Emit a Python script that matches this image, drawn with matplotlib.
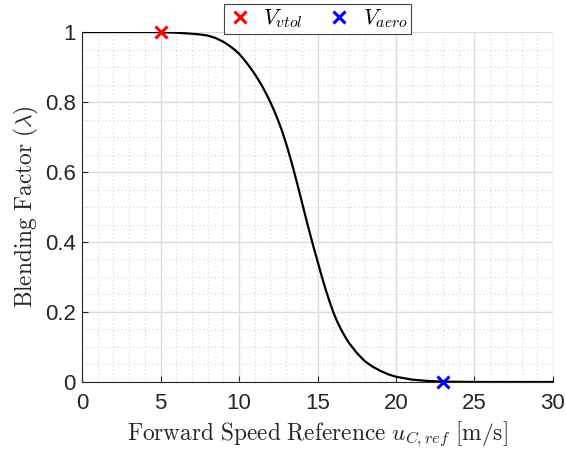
import matplotlib
matplotlib.use("Agg")
import matplotlib.pyplot as plt
from matplotlib.ticker import MultipleLocator

plt.rcParams['mathtext.fontset'] = 'cm'
plt.rcParams['font.family'] = ['Liberation Sans', 'DejaVu Sans']

# forward speed reference [m/s] and blending factor
speed = [0, 1, 2, 3, 4, 5, 6, 7, 7.5, 8, 8.5, 9, 9.25, 9.5, 9.75, 10, 10.25,
         10.5, 10.75, 11, 11.25, 11.5, 11.75, 12, 12.25, 12.5, 12.75, 13,
         13.25, 13.5, 13.75, 14, 14.25, 14.5, 14.75, 15, 15.25, 15.5, 15.75, 16,
         16.25, 16.5, 16.75, 17, 17.5, 18, 18.5, 19, 19.5, 20, 21, 22, 23, 24,
         25, 26, 27, 28, 29, 30]
blend = [1.0, 1.0, 1.0, 1.0, 1.0, 0.9995, 0.998, 0.995, 0.993, 0.990, 0.983,
         0.972, 0.965, 0.957, 0.948, 0.938, 0.925, 0.911, 0.896, 0.880, 0.862,
         0.843, 0.822, 0.799, 0.774, 0.746, 0.716, 0.681, 0.643, 0.602, 0.559,
         0.515, 0.470, 0.427, 0.385, 0.345, 0.305, 0.267, 0.232, 0.200, 0.173,
         0.150, 0.130, 0.112, 0.083, 0.060, 0.044, 0.032, 0.022, 0.015, 0.007,
         0.003, 0.001, 0.0005, 0.0, 0.0, 0.0, 0.0, 0.0, 0.0]

v_vtol = (5, 1.0)
v_aero = (23, 0.0)

fig = plt.figure(figsize=(5.66, 4.54), dpi=100)
ax = fig.add_axes([0.145, 0.1586, 0.832, 0.7709])

ax.plot(speed, blend, color='black', lw=1.6, zorder=3)
ax.plot(v_vtol[0], v_vtol[1], 'x', color='red', ms=8, mew=2.2, zorder=4,
        label=r'$V_{vtol}$', clip_on=False)
ax.plot(v_aero[0], v_aero[1], 'x', color='blue', ms=8, mew=2.2, zorder=4,
        label=r'$V_{aero}$', clip_on=False)

ax.set_xlim(0, 30)
ax.set_ylim(0, 1)
ax.xaxis.set_major_locator(MultipleLocator(5))
ax.xaxis.set_minor_locator(MultipleLocator(1))
ax.yaxis.set_major_locator(MultipleLocator(0.2))
ax.yaxis.set_minor_locator(MultipleLocator(0.05))
ax.set_yticks([0, 0.2, 0.4, 0.6, 0.8, 1.0])
ax.set_yticklabels(['0', '0.2', '0.4', '0.6', '0.8', '1'])

ax.grid(which='major', color='#dcdcdc', lw=1.0)
ax.grid(which='minor', color='#d4d4d4', lw=0.8, ls=(0, (1, 2.5)))
ax.set_axisbelow(True)

ax.spines['top'].set_visible(False)
ax.spines['right'].set_visible(False)
for s in ('left', 'bottom'):
    ax.spines[s].set_color('#262626')
    ax.spines[s].set_linewidth(0.8)
ax.tick_params(which='major', direction='in', length=4, width=0.8,
               colors='#262626', labelsize=16)
ax.tick_params(axis='x', which='major', pad=8)
ax.tick_params(axis='y', which='major', pad=4.5)
ax.tick_params(which='minor', length=0)

ax.set_xlabel(r'$\mathrm{Forward\ Speed\ Reference}\ u_{C,ref}\ \mathrm{[m/s]}$',
              fontsize=16.8, color='#262626', labelpad=4)
ax.set_ylabel(r'$\mathrm{Blending\ Factor}\ (\lambda)$',
              fontsize=16.8, color='#262626', labelpad=3)

leg = ax.legend(loc='lower center', bbox_to_anchor=(0.5, 0.995), ncol=2,
                fancybox=False, edgecolor='#444444', framealpha=1,
                fontsize=16, handlelength=1.1, handletextpad=0.5,
                columnspacing=1.1, borderpad=0.15, borderaxespad=0.0)
leg.get_frame().set_linewidth(0.8)

fig.savefig('out.png', dpi=100)
